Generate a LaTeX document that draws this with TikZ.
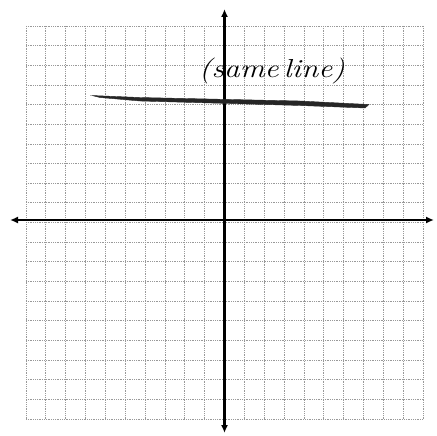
\documentclass[tikz,border=0pt]{standalone}
\usetikzlibrary{arrows.meta}
\begin{document}
\begin{tikzpicture}[x=1pt,y=-1pt,
  gridline/.style={draw=gray!80,line width=0.8pt,densely dotted},
  axisline/.style={draw=black,line width=2.6pt,{Latex[length=8pt,width=7pt]}-{Latex[length=8pt,width=7pt]}},
  handline/.style={fill=black!85,draw=black!85,line width=0.4pt},
  handtext/.style={font=\itshape\fontsize{26}{28}\selectfont,inner sep=0pt}]
\useasboundingbox (0,0) rectangle (436,436);
\fill[white] (0,0) rectangle (436,436);
% grid
\foreach \i in {0,...,20}{
  \draw[gridline] ({26+\i*19.85},26) -- ({26+\i*19.85},419);
  \draw[gridline] (26,{26+\i*19.65}) -- (423,{26+\i*19.65});
}
% axes
\coordinate (xl) at (10,220);
\coordinate (xr) at (434,220);
\coordinate (yt) at (224.5,9);
\coordinate (yb) at (224.5,433);
\draw[axisline] (xl) -- (xr);
\draw[axisline] (yt) -- (yb);
% hand-drawn line
\filldraw[handline] (92,95.5) -- (140,97.5) -- (300,101) -- (369,104.5) -- (365,108) -- (300,105.5) -- (140,101) -- (100,97.5) -- cycle;
% label
\node[handtext,xscale=1.2] (lbl) at (272,71) {(same\,line)};
\end{tikzpicture}
\end{document}
